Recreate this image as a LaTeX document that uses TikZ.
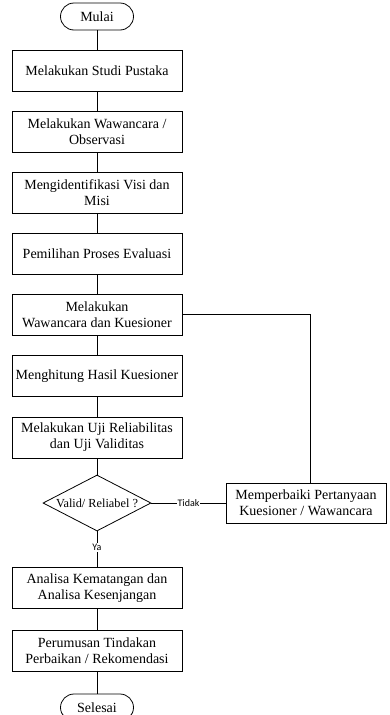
\documentclass[tikz,border=0pt]{standalone}
\usepackage{fontspec}
\setmainfont{Liberation Serif}
\newfontfamily\labelfont{Carlito}
\usepackage{tikz}
\usetikzlibrary{calc}
\usetikzlibrary{shapes.geometric}
\tikzset{>=latex}
\tikzset{
    box/.style={draw, line width=0.8pt, minimum width=170pt, minimum height=41pt, inner sep=2pt, align=center, font=\fontsize{14}{16}\selectfont},
    term/.style={draw, line width=0.8pt, rounded corners=13.5pt, minimum width=73pt, minimum height=27pt, inner sep=0pt, font=\fontsize{14}{16}\selectfont},
    lbl/.style={fill=white, inner sep=1pt, font=\labelfont\fontsize{10}{12}\selectfont}
}

\begin{document}
\begin{tikzpicture}[x=1pt, y=-1pt, line width=0.8pt]
            \useasboundingbox (0, 0) rectangle (390, 715);

            % Mulai
            \draw (97, 16.5) node[term] (mulai) {Mulai};

            % langkah
            \draw (97, 70.5) node[box] (b1) {Melakukan Studi Pustaka};
            \draw (97, 132) node[box] (b2) {Melakukan Wawancara /\\Observasi};
            \draw (97, 193) node[box] (b3) {Mengidentifikasi Visi dan\\Misi};
            \draw (97, 253.5) node[box] (b4) {Pemilihan Proses Evaluasi};
            \draw (97, 314.5) node[box] (b5) {Melakukan\\Wawancara dan Kuesioner};
            \draw (97, 376) node[box] (b6) {Menghitung Hasil Kuesioner};
            \draw (97, 437.5) node[box] (b7) {Melakukan Uji Reliabilitas\\dan Uji Validitas};

            % keputusan
            \draw (97, 503) node[diamond, draw, inner sep=0pt, minimum width=108pt, minimum height=56pt] (dec) {};
            \draw (dec) node[font=\fontsize{12.3}{14}\selectfont] (dectext) {Valid/ Reliabel ?};
            \draw (306, 503) node[box, minimum width=160pt, minimum height=40pt] (fix) {Memperbaiki Pertanyaan\\Kuesioner / Wawancara};

            \draw (97, 588) node[box] (b8) {Analisa Kematangan dan\\Analisa Kesenjangan};
            \draw (97, 650.5) node[box] (b9) {Perumusan Tindakan\\Perbaikan / Rekomendasi};

            % Selesai
            \draw (97, 707.5) node[term] (selesai) {Selesai};

            % garis
            \draw (mulai) -- (b1);
            \draw (b1) -- (b2);
            \draw (b2) -- (b3);
            \draw (b3) -- (b4);
            \draw (b4) -- (b5);
            \draw (b5) -- (b6);
            \draw (b6) -- (b7);
            \draw (b7) -- (dec);
            \draw (dec) -- node[lbl] (tidak) {Tidak} (fix);
            \draw (dec) -- node[lbl, pos=0.45] (ya) {Ya} (b8);
            \draw (b8) -- (b9);
            \draw (b9) -- (selesai);

            % kembali
            \coordinate (turn) at (310, 314.5);
            \draw (b5.east) -- (turn) -- (turn |- fix.north);
        \end{tikzpicture}
\end{document}
